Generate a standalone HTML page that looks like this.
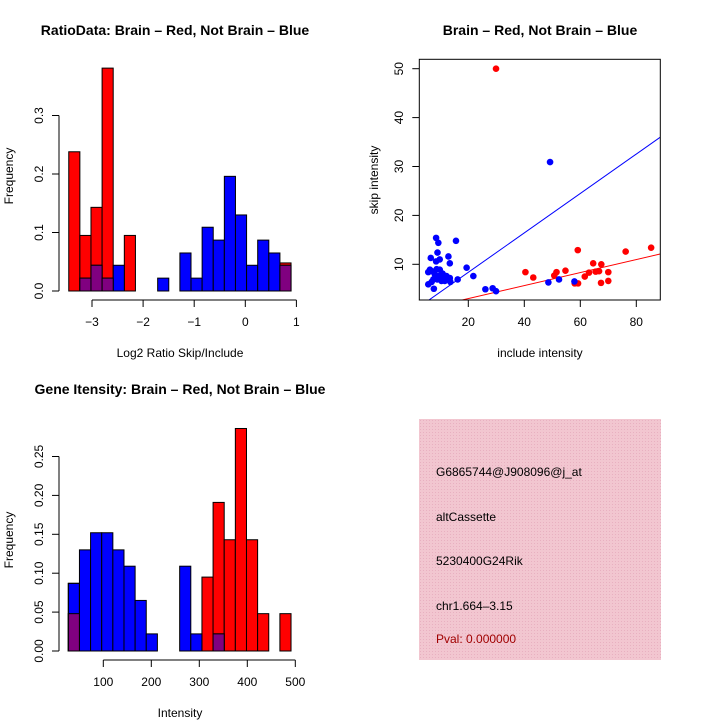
<!DOCTYPE html>
<html><head><meta charset="utf-8"><style>
body{margin:0;background:#fff}
svg text{font-family:"Liberation Sans",sans-serif;}
</style></head><body>
<svg id="s" width="720" height="720" xmlns="http://www.w3.org/2000/svg">
<defs><pattern id="hatch" width="3" height="3" patternUnits="userSpaceOnUse"><rect width="3" height="3" fill="#f2c6d0"/><rect width="1" height="1" fill="#e8b0c0"/></pattern></defs>
<text x="175" y="35" font-size="14" font-weight="bold" text-anchor="middle">RatioData: Brain – Red, Not Brain – Blue</text>
<text x="540" y="35" font-size="14" font-weight="bold" text-anchor="middle">Brain – Red, Not Brain – Blue</text>
<text x="180" y="394" font-size="14" font-weight="bold" text-anchor="middle">Gene Itensity: Brain – Red, Not Brain – Blue</text>
<text x="180" y="357" font-size="12" text-anchor="middle">Log2 Ratio Skip/Include</text>
<text x="180" y="717" font-size="12" text-anchor="middle">Intensity</text>
<text x="540" y="357" font-size="12" text-anchor="middle">include intensity</text>
<text transform="translate(13,176) rotate(-90)" font-size="12" text-anchor="middle">Frequency</text>
<text transform="translate(13,540) rotate(-90)" font-size="12" text-anchor="middle">Frequency</text>
<text transform="translate(378,180) rotate(-90)" font-size="12" text-anchor="middle">skip intensity</text>
<g>
<rect x="419" y="419" width="242" height="241" fill="url(#hatch)"/>
<text x="436" y="476" font-size="12">G6865744@J908096@j_at</text>
<text x="436" y="521" font-size="12">altCassette</text>
<text x="436" y="565" font-size="12">5230400G24Rik</text>
<text x="436" y="610" font-size="12">chr1.664–3.15</text>
<text x="436" y="643" font-size="12" fill="#a00000">Pval: 0.000000</text>
</g>
</svg>
<script>
// Ratio histogram data
const ratioStart=-3.455, ratioBin=0.2175;
const ratioRed=[0.238,0.095,0.143,0.381,0,0.095,0,0,0,0,0,0,0,0,0,0,0,0,0,0.048];
const ratioBlue=[0,0.022,0.044,0.022,0.044,0,0,0,0.022,0,0.065,0.022,0.109,0.087,0.196,0.130,0.044,0.087,0.065,0.044];
const ratioXTicks=[-3,-2,-1,0,1];
const ratioYTicks=[0,0.1,0.2,0.3];
const ratioYLabels=["0.0","0.1","0.2","0.3"];
// Intensity histogram data
const intStart=27.1, intBin=23.2;
const intRed=[0.048,0,0,0,0,0,0,0,0,0,0,0,0.095,0.191,0.143,0.286,0.143,0.048,0,0.048];
const intBlue=[0.087,0.130,0.152,0.152,0.130,0.109,0.065,0.022,0,0,0.109,0.022,0,0.022,0,0,0,0,0,0];
const intXTicks=[100,200,300,400,500];
const intYTicks=[0,0.05,0.10,0.15,0.20,0.25];
const intYLabels=["0.00","0.05","0.10","0.15","0.20","0.25"];
// Scatter data
const redX=[29.9,40.4,43.2,50.7,51.5,54.7,59.1,58.0,59.2,61.6,63.1,64.6,65.5,66.7,67.5,67.4,70.0,70.0,76.2,85.3];
const redY=[50.0,8.4,7.3,7.7,8.4,8.7,12.9,6.1,6.1,7.5,8.3,10.2,8.5,8.6,10.0,6.2,8.4,6.6,12.6,13.4];
const blueX=[49.2,8.5,9.3,15.6,9.0,6.6,9.8,12.9,8.5,13.4,19.4,21.8,16.2,26.1,28.7,29.9,48.6,52.4,57.9,5.7,6.3,5.7,6.9,7.7,7.5,8.7,9.8,10.8,11.0,9.6,8.1,12.2,13.4,13.6,11.6,6.9,8.9,10.4];
const blueY=[30.9,15.4,14.4,14.8,12.4,11.3,11.0,11.6,10.6,10.2,9.3,7.6,6.9,4.9,5.1,4.5,6.3,6.9,6.5,8.4,8.9,5.9,6.4,5.0,6.9,9.0,8.9,8.1,6.9,7.6,7.9,7.6,7.2,6.4,6.6,8.6,6.9,6.6];
const blueFit=[0.30,0.403], redFit=[0.33,0.133];
const scXTicks=[20,40,60,80];
const scYTicks=[10,20,30,40,50];

const S=document.getElementById('s'),NS='http://www.w3.org/2000/svg';
function mk(t,a,p){const e=document.createElementNS(NS,t);for(const k in a)e.setAttribute(k,a[k]);(p||S).appendChild(e);return e;}

function hist(g,start,bin,red,blue,xs,ys,ylab,X,Y,axisY,axisX){
  red.forEach((v,i)=>{if(v>0){const r=mk('rect',{x:X(start+i*bin),y:Y(v),width:X(start+(i+1)*bin)-X(start+i*bin),height:Y(0)-Y(v),fill:'#f00',stroke:'#000','stroke-width':1},g);
  
  }});
  blue.forEach((v,i)=>{if(v>0){const r=mk('rect',{x:X(start+i*bin),y:Y(v),width:X(start+(i+1)*bin)-X(start+i*bin),height:Y(0)-Y(v),fill:'#00f',stroke:'#000','stroke-width':1},g);
  
  }});
  red.forEach((v,i)=>{const m=Math.min(v,blue[i]);if(m>0){const r=mk('rect',{x:X(start+i*bin),y:Y(m),width:X(start+(i+1)*bin)-X(start+i*bin),height:Y(0)-Y(m),fill:'#800080',stroke:'#000','stroke-width':1},g);
  
  
  if(blue[i]>v){const t=mk('rect',{x:X(start+i*bin),y:Y(blue[i]),width:X(start+(i+1)*bin)-X(start+i*bin),height:Y(0)-Y(blue[i]),fill:'none',stroke:'#000','stroke-width':1},g);
  
  }}});
  mk('line',{x1:X(xs[0]),x2:X(xs[xs.length-1]),y1:axisY,y2:axisY,stroke:'#000'},g);
  xs.forEach(v=>{mk('line',{x1:X(v),x2:X(v),y1:axisY,y2:axisY+7,stroke:'#000'},g);
    const t=mk('text',{x:X(v),y:axisY+26,'font-size':12,'text-anchor':'middle'},g);t.textContent=String(v).replace('-','−');
    
    });
  mk('line',{x1:axisX,x2:axisX,y1:Y(ys[0]),y2:Y(ys[ys.length-1]),stroke:'#000'},g);
  ys.forEach((v,i)=>{mk('line',{x1:axisX-7,x2:axisX,y1:Y(v),y2:Y(v),stroke:'#000'},g);
    const t=mk('text',{transform:`translate(${axisX-16},${Y(v)}) rotate(-90)`,'font-size':12,'text-anchor':'middle'},g);t.textContent=ylab[i];
    
    });
}
const g1=mk('g',{});


hist(g1,ratioStart,ratioBin,ratioRed,ratioBlue,ratioXTicks,ratioYTicks,ratioYLabels,v=>245.3+v*51.1,v=>291-v*585,300,59);
const g2=mk('g',{});


hist(g2,intStart,intBin,intRed,intBlue,intXTicks,intYTicks,intYLabels,v=>103.3+(v-100)*0.48,v=>651-v*778,660,59);

// scatter
const g3=mk('g',{});


const SX=v=>412.3+v*2.8, SY=v=>313.2-v*4.89;
const cp=mk('clipPath',{id:'cp'},g3);mk('rect',{x:419.3,y:59.3,width:241,height:240.7},cp);
function fit(f,c,n){const x0=(SY.inv=0,2.5),x1=88.5;const l=mk('line',{x1:SX(x0),y1:SY(f[0]+f[1]*x0),x2:SX(x1),y2:SY(f[0]+f[1]*x1),stroke:c,'stroke-width':1,'clip-path':'url(#cp)'},g3);

}
fit(blueFit,'#00f','blue-fit-line');fit(redFit,'#f00','red-fit-line');
redX.forEach((x,i)=>{const c=mk('circle',{cx:SX(x),cy:SY(redY[i]),r:3.3,fill:'#f00'},g3);

});
blueX.forEach((x,i)=>{const c=mk('circle',{cx:SX(x),cy:SY(blueY[i]),r:3.3,fill:'#00f'},g3);

});
mk('rect',{x:419.3,y:59.3,width:241,height:240.7,fill:'none',stroke:'#000'},g3);
scXTicks.forEach(v=>{mk('line',{x1:SX(v),x2:SX(v),y1:300,y2:307,stroke:'#000'},g3);
  const t=mk('text',{x:SX(v),y:326,'font-size':12,'text-anchor':'middle'},g3);t.textContent=v;
  
  });
scYTicks.forEach(v=>{mk('line',{x1:412.3,x2:419.3,y1:SY(v),y2:SY(v),stroke:'#000'},g3);
  const t=mk('text',{transform:`translate(403,${SY(v)}) rotate(-90)`,'font-size':12,'text-anchor':'middle'},g3);t.textContent=v;
  
  });
</script>
</body></html>
